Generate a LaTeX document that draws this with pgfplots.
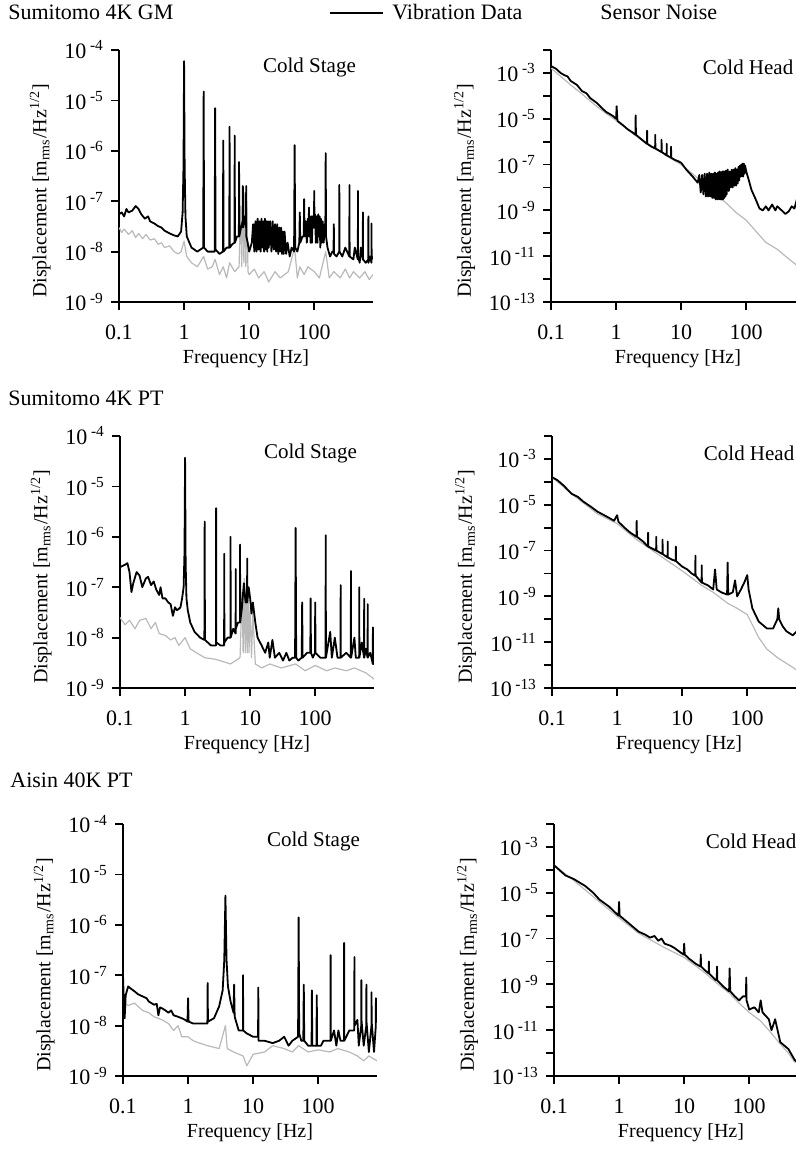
\documentclass[border=0pt]{standalone}
\usepackage{fontspec}
\setmainfont{Liberation Serif}
\usepackage{pgfplots}
\pgfplotsset{compat=1.18}

\pgfplotsset{
  cpanel/.style={scale only axis,width=127pt,height=126pt,
    xmin=0.1,xmax=800,
    axis x line*=bottom,axis y line*=left,
    axis line style={line width=1pt,-},
    tick align=outside,major tick length=4pt,
    tick style={line width=0.9pt,black},
    xminorticks=false,yminorticks=false,
    tick label style={font=\fontsize{11}{13}\selectfont},
    label style={font=\fontsize{10}{12}\selectfont},
    xticklabel shift=4pt,
    xtick={0.1,1,10,100},xticklabels={0.1,1,10,100},
    xlabel={Frequency [Hz]},
    xlabel style={yshift=2pt},
    ylabel={Displacement [m\textsubscript{rms}/Hz\textsuperscript{1/2}]},
    ylabel style={at={(ticklabel cs:0.44)}},
    anchor=north west},
  lpanel/.style={cpanel,ymin=1e-9,ymax=1e-4,
    ytick={1e-9,1e-8,1e-7,1e-6,1e-5,1e-4},
    yticklabels={10\,\textsuperscript{-9},10\,\textsuperscript{-8},10\,\textsuperscript{-7},10\,\textsuperscript{-6},10\,\textsuperscript{-5},10\,\textsuperscript{-4}}},
  rpanel/.style={cpanel,ymin=1e-13,ymax=1e-2,
    ytick={1e-13,1e-12,1e-11,1e-10,1e-9,1e-8,1e-7,1e-6,1e-5,1e-4,1e-3,1e-2},
    yticklabels={10\,\textsuperscript{-13},,10\,\textsuperscript{-11},,10\,\textsuperscript{-9},,10\,\textsuperscript{-7},,10\,\textsuperscript{-5},,10\,\textsuperscript{-3},}},
  vib/.style={black,line width=0.9pt,line join=round},
  noise/.style={gray!55,line width=0.6pt,line join=round},
}

\begin{document}
\begin{tikzpicture}
\useasboundingbox (0,0) rectangle (398pt,-583pt);
\clip (0,0) rectangle (398pt,-583pt);

% row titles and legend
\begin{scope}[every node/.style={inner sep=0pt,anchor=base west,font=\fontsize{11}{13}\selectfont}]
\node at (4pt,-10pt) {Sumitomo 4K GM};
\draw[line width=0.8pt] (165pt,-6.5pt) -- (191.5pt,-6.5pt);
\node at (196pt,-10pt) {Vibration Data};
\node at (300pt,-10pt) {Sensor Noise};
\node at (4pt,-202.5pt) {Sumitomo 4K PT};
\node at (5pt,-393.5pt) {Aisin 40K PT};
\end{scope}

% Sumitomo 4K GM, cold stage
\begin{axis}[xmode=log,ymode=log,lpanel,at={(59.5pt,-25pt)}]
\addplot[noise] coordinates {(0.1,3e-8)(0.11,2.4e-8)(0.12,2.8e-8)(0.14,2.2e-8)(0.16,2.6e-8)(0.18,1.9e-8)(0.2,2.3e-8)(0.23,1.8e-8)(0.26,2.2e-8)(0.3,1.7e-8)(0.35,1.8e-8)(0.4,1.4e-8)(0.45,1.5e-8)(0.5,1.2e-8)(0.6,1.3e-8)(0.7,1e-8)(0.8,9e-9)(0.9,1e-8)(1,1.6e-8)(1.1,8e-9)(1.3,6e-9)(1.6,5e-9)(2,8e-9)(2.3,4.5e-9)(2.7,5e-9)(3,7e-9)(3.5,3.5e-9)(4,5e-9)(4.5,3e-9)(5,6e-9)(6,4e-9)(7,5e-9)(7.4,8e-8)(7.7,5e-9)(8,2e-7)(8.3,6e-9)(8.6,1.5e-7)(8.9,5e-9)(9.2,1e-7)(9.6,4e-9)(10,3.5e-9)(12,4.5e-9)(14,3e-9)(17,4e-9)(20,2.5e-9)(25,4e-9)(30,3e-9)(40,4e-9)(50,1.2e-8)(55,3e-9)(60,5e-9)(70,3.5e-9)(80,5e-9)(100,4e-9)(120,3e-9)(150,1e-8)(170,3e-9)(200,4e-9)(250,3e-9)(300,4.5e-9)(350,3e-9)(400,4e-9)(500,3e-9)(600,4e-9)(700,2.8e-9)(800,3.5e-9)};
\addplot[vib] coordinates {(0.1,5.5e-8)(0.11,6e-8)(0.12,5e-8)(0.13,7e-8)(0.14,6e-8)(0.16,6.5e-8)(0.18,8e-8)(0.2,7e-8)(0.22,5.5e-8)(0.25,4.5e-8)(0.28,5e-8)(0.3,4e-8)(0.35,3.6e-8)(0.4,3.2e-8)(0.45,3e-8)(0.5,2.6e-8)(0.6,2.3e-8)(0.7,2.1e-8)(0.8,2e-8)(0.9,2.5e-8)(0.95,6e-8)(0.98,5e-7)(1,6e-5)(1.02,5e-7)(1.05,5e-8)(1.1,2e-8)(1.3,1.2e-8)(1.6,1e-8)(1.97,1.2e-8)(2,1.5e-5)(2.03,1.2e-8)(2.3,1e-8)(2.6,1e-8)(2.95,1e-8)(3,7e-6)(3.05,1.1e-8)(3.5,9e-9)(3.95,1e-8)(4,1.6e-6)(4.05,1e-8)(4.5,1.2e-8)(4.95,1.2e-8)(5,3e-6)(5.05,1.2e-8)(5.5,1.4e-8)(5.95,1.5e-8)(6,2e-6)(6.05,1.5e-8)(6.5,2e-8)(6.95,2e-8)(7,6e-7)(7.05,2e-8)(7.5,3e-8)(7.95,4e-8)(8,2e-7)(8.05,3e-8)(8.5,5e-8)(8.95,3e-8)(9,2e-7)(9.05,2e-8)(9.5,1.5e-8)(10,1e-8)(11,1.5e-8)(11.5,3.5e-8)(12,1e-8)(12.5,4e-8)(13,1e-8)(13.5,4.5e-8)(14,1.1e-8)(14.5,4e-8)(15,1e-8)(15.5,4.5e-8)(16,1.2e-8)(16.5,4e-8)(17,1e-8)(17.5,4.5e-8)(18,1.1e-8)(18.5,4e-8)(19,1e-8)(19.5,4e-8)(20,1.2e-8)(21,4e-8)(22,1e-8)(23,4e-8)(24,1.1e-8)(25,3.5e-8)(26,1e-8)(27,3.5e-8)(28,9e-9)(29,3e-8)(30,1e-8)(31,3e-8)(32,9e-9)(33,2.5e-8)(34,9e-9)(35,2.5e-8)(37,9e-9)(39,1.5e-8)(42,8e-9)(45,1.2e-8)(49,1e-8)(50,1.3e-6)(51,1.2e-8)(55,1e-8)(59,1.5e-8)(60,6e-8)(61,1.5e-8)(66,2e-8)(69,2e-8)(70,1.1e-7)(71,2e-8)(74,4e-8)(77,1.5e-8)(80,4.5e-8)(82,2e-8)(83,7.5e-8)(84,2e-8)(86,5e-8)(88,1.5e-8)(90,5e-8)(92,1.5e-8)(95,5e-8)(99,3e-8)(100,1.6e-7)(101,3e-8)(103,5.5e-8)(106,1.5e-8)(109,5e-8)(112,1.5e-8)(115,5.5e-8)(118,2e-8)(121,5e-8)(124,1.2e-8)(127,4.5e-8)(131,1.5e-8)(135,4e-8)(140,1.5e-8)(144,3.5e-8)(148,2e-8)(150,9e-7)(152,2e-8)(160,1.2e-8)(175,8e-9)(190,1e-8)(198,1e-8)(200,3.5e-8)(202,9e-9)(220,8e-9)(242,1e-8)(243,2.1e-7)(245,1e-8)(270,8e-9)(300,1.2e-8)(346,8e-9)(348,2.1e-7)(350,8e-9)(400,7e-9)(420,1.2e-8)(468,7e-9)(470,1.6e-7)(472,8e-9)(500,6e-9)(520,1.2e-8)(558,7e-9)(560,6e-8)(562,7e-9)(620,6e-9)(678,7e-9)(680,5e-8)(682,6e-9)(720,8e-9)(758,6e-9)(760,3.6e-8)(762,7e-9)(800,8e-9)};
\node[font=\fontsize{10.5}{12}\selectfont] at (rel axis cs:0.75,0.93) {Cold Stage};
\end{axis}

% Sumitomo 4K GM, cold head
\begin{axis}[xmode=log,ymode=log,rpanel,at={(275.5pt,-25pt)}]
\addplot[noise] coordinates {(0.1,1.6e-3)(0.2,3e-4)(0.3,1.2e-4)(0.5,3.5e-5)(0.7,1.7e-5)(1,8.5e-6)(2,1.8e-6)(3,8.5e-7)(5,3.7e-7)(7,1.8e-7)(10,1e-7)(20,2e-8)(30,7e-9)(50,2e-9)(70,8e-10)(100,3.7e-10)(150,1e-10)(200,4e-11)(300,2e-11)(400,1e-11)(600,4e-12)(800,2.5e-12)};
\addplot[vib] coordinates {(0.1,2e-3)(0.12,1.5e-3)(0.14,1e-3)(0.16,8e-4)(0.18,7e-4)(0.2,4.5e-4)(0.25,3e-4)(0.3,1.6e-4)(0.35,1.3e-4)(0.4,8e-5)(0.5,5e-5)(0.6,3e-5)(0.7,2e-5)(0.8,1.6e-5)(0.9,1.3e-5)(1,1e-5)(1.02,3.5e-5)(1.05,8e-6)(1.3,5e-6)(1.5,3.5e-6)(1.8,2.5e-6)(1.98,2e-6)(2,1.4e-5)(2.02,2e-6)(2.5,1.2e-6)(2.98,8e-7)(3,3e-6)(3.02,8e-7)(3.5,6e-7)(3.98,5e-7)(4,2e-6)(4.02,5e-7)(4.98,3.5e-7)(5,1.2e-6)(5.02,3.5e-7)(5.98,2.5e-7)(6,8e-7)(6.02,2.5e-7)(6.98,2e-7)(7,6e-7)(7.02,2e-7)(8,1.6e-7)(9,1.4e-7)(10,1.2e-7)(12,6e-8)(15,3e-8)(18,1.6e-8)(19,3.5e-8)(20,6e-9)(21,3.5e-8)(22,5e-9)(23,4e-8)(24,4e-9)(25,4e-8)(26,4e-9)(27,4.5e-8)(28,4e-9)(29,4e-8)(30,3.5e-9)(31,4e-8)(32,3.5e-9)(33,4.5e-8)(34,3e-9)(35,4e-8)(36,3e-9)(37,4.5e-8)(38,3e-9)(39,5e-8)(40,3e-9)(41,4.5e-8)(42,3e-9)(43,5e-8)(44,3e-9)(45,5e-8)(46,3.5e-9)(47,5e-8)(48,4e-9)(49,5.5e-8)(50,5e-9)(52,6e-8)(54,7e-9)(56,5e-8)(58,1e-8)(60,6e-8)(62,1e-8)(64,6e-8)(66,1.2e-8)(68,7e-8)(70,1.2e-8)(72,6e-8)(74,1.5e-8)(76,8e-8)(78,2e-8)(80,9e-8)(82,3e-8)(84,1e-7)(86,3e-8)(88,1.1e-7)(90,3e-8)(92,1.1e-7)(94,4e-8)(96,9e-8)(100,5e-8)(110,2e-8)(120,8e-9)(140,3e-9)(160,1.2e-9)(180,1e-9)(200,1.5e-9)(220,1e-9)(250,1.8e-9)(280,1e-9)(300,1.5e-9)(350,1e-9)(400,7e-10)(450,9e-10)(500,1.5e-9)(550,1.2e-9)(600,3e-9)(620,8e-9)(640,2e-9)(700,2e-9)(800,3e-9)};
\node[font=\fontsize{10.5}{12}\selectfont] at (rel axis cs:0.776,0.93) {Cold Head};
\end{axis}

% Sumitomo 4K PT, cold stage
\begin{axis}[xmode=log,ymode=log,lpanel,at={(60pt,-218pt)}]
\addplot[noise] coordinates {(0.1,2.5e-8)(0.12,1.8e-8)(0.14,2.2e-8)(0.17,1.5e-8)(0.2,2.2e-8)(0.25,2.4e-8)(0.3,1.5e-8)(0.35,2e-8)(0.4,1.2e-8)(0.5,1.1e-8)(0.6,9e-9)(0.7,1e-8)(0.8,7e-9)(1,1e-8)(1.2,6e-9)(1.5,5e-9)(2,4e-9)(3,3.7e-9)(5,3e-9)(7,4e-9)(7.5,8e-8)(7.8,5e-9)(8.1,1.5e-7)(8.4,5e-9)(8.7,1.2e-7)(9,5e-9)(9.3,8e-8)(9.6,5e-9)(10,4e-8)(10.5,4e-9)(11,3e-8)(12,3e-9)(15,2.5e-9)(20,3e-9)(30,2.5e-9)(50,3e-9)(70,2.2e-9)(100,2.8e-9)(150,2.2e-9)(200,2.5e-9)(300,2.2e-9)(400,2.5e-9)(600,2e-9)(800,1.5e-9)};
\addplot[vib] coordinates {(0.1,2.5e-7)(0.12,2.8e-7)(0.13,3e-7)(0.14,2e-7)(0.15,8e-8)(0.16,1.2e-7)(0.18,2e-7)(0.2,1.7e-7)(0.22,1e-7)(0.25,1.5e-7)(0.27,1.6e-7)(0.3,1.1e-7)(0.33,1.3e-7)(0.36,9e-8)(0.4,7e-8)(0.42,1e-7)(0.45,6e-8)(0.5,6e-8)(0.55,5e-8)(0.6,4.6e-8)(0.65,2.7e-8)(0.7,4e-8)(0.75,3.5e-8)(0.8,3.7e-8)(0.85,4e-8)(0.9,6e-8)(0.95,1e-7)(0.98,5e-7)(1,3.7e-5)(1.02,3e-7)(1.05,6e-8)(1.1,3.5e-8)(1.2,2e-8)(1.4,1.3e-8)(1.7,1e-8)(1.98,9e-9)(2,2e-6)(2.02,9e-9)(2.5,7e-9)(2.98,7e-9)(3,3.7e-6)(3.02,8e-9)(3.5,7e-9)(3.98,7e-9)(4,4.6e-7)(4.02,8e-9)(4.5,1e-8)(4.98,1e-8)(5,1e-6)(5.02,1e-8)(5.5,1.5e-8)(5.98,1.2e-8)(6,2.3e-7)(6.02,1.5e-8)(6.5,2e-8)(6.98,2e-8)(7,7e-7)(7.02,2e-8)(7.5,4e-8)(8,1.2e-7)(8.5,5e-8)(8.98,5e-8)(9,3.7e-7)(9.02,5e-8)(9.5,1e-7)(10,6e-8)(10.5,3e-8)(11,5e-8)(12,2e-8)(13,1e-8)(15,7e-9)(17,5e-9)(19,8e-9)(20,4e-9)(22,9e-9)(24,4e-9)(28,5e-9)(32,3.5e-9)(36,5e-9)(40,3.5e-9)(45,4e-9)(49,4e-9)(50,1.5e-6)(51,4e-9)(55,3.5e-9)(62,4e-9)(63,5e-8)(64,4e-9)(75,5e-9)(84,5e-9)(85,6e-8)(86,5e-9)(92,4e-9)(99,5e-9)(100,5e-8)(101,5e-9)(120,4e-9)(144,4e-9)(145,1.07e-6)(146,4e-9)(170,1.3e-8)(180,4e-9)(200,1e-8)(220,4e-9)(245,4e-9)(246,1.1e-7)(247,4e-9)(300,5e-9)(352,4e-9)(354,2.1e-7)(356,4e-9)(400,1e-8)(420,4e-9)(473,4e-9)(475,1e-7)(477,4e-9)(520,8e-9)(563,4e-9)(565,5.9e-8)(567,4e-9)(600,6e-9)(638,4e-9)(640,4.6e-8)(642,4e-9)(700,5e-9)(768,3e-9)(770,1.6e-8)(772,3e-9)(800,3e-9)};
\node[font=\fontsize{10.5}{12}\selectfont] at (rel axis cs:0.75,0.93) {Cold Stage};
\end{axis}

% Sumitomo 4K PT, cold head
\begin{axis}[xmode=log,ymode=log,rpanel,at={(276pt,-218pt)}]
\addplot[noise] coordinates {(0.1,1.6e-4)(0.2,3e-5)(0.5,4e-6)(1,1.5e-6)(2,3e-7)(5,5e-8)(10,1.3e-8)(20,3e-9)(30,1.5e-9)(50,5e-10)(70,3e-10)(100,1.6e-10)(150,1.6e-11)(200,5e-12)(300,2e-12)(500,8e-13)(700,4e-13)(800,3e-13)};
\addplot[vib] coordinates {(0.1,1.6e-4)(0.12,1.2e-4)(0.15,7e-5)(0.2,3e-5)(0.25,2.2e-5)(0.3,1.4e-5)(0.4,8e-6)(0.5,5e-6)(0.7,3e-6)(0.9,2e-6)(1,3.5e-6)(1.05,1.8e-6)(1.3,1e-6)(1.6,6e-7)(1.98,4e-7)(2,2e-6)(2.02,4e-7)(2.5,2.5e-7)(2.98,1.5e-7)(3,6e-7)(3.02,1.5e-7)(3.5,1.2e-7)(3.98,1e-7)(4,4e-7)(4.02,1e-7)(4.98,7e-8)(5,3e-7)(5.02,7e-8)(5.98,5e-8)(6,2.5e-7)(6.02,5e-8)(7,4e-8)(7.98,3.5e-8)(8,1.5e-7)(8.02,3.5e-8)(10,2e-8)(12,1.5e-8)(14,1e-8)(15.9,8e-9)(16,6e-8)(16.1,8e-9)(19.9,4e-9)(20,2.3e-8)(20.1,4e-9)(25,3e-9)(30,2e-9)(32,1.5e-8)(34,2e-9)(40,1.5e-9)(49,1.2e-9)(50,3e-8)(51,1.2e-9)(60,1.5e-9)(65,5e-9)(70,1e-9)(80,2e-9)(90,4e-9)(100,8.5e-9)(105,2e-9)(120,3e-10)(150,8e-11)(200,4e-11)(250,4e-11)(290,1e-10)(300,3e-10)(310,1e-10)(350,5e-11)(400,3e-11)(500,2e-11)(580,3e-11)(600,1.3e-10)(620,3e-11)(700,1.5e-11)(800,1.2e-11)};
\node[font=\fontsize{10.5}{12}\selectfont] at (rel axis cs:0.776,0.93) {Cold Head};
\end{axis}

% Aisin 40K PT, cold stage
\begin{axis}[xmode=log,ymode=log,lpanel,at={(61.5pt,-412pt)}]
\addplot[noise] coordinates {(0.1,3e-8)(0.12,2.5e-8)(0.15,2.8e-8)(0.2,2e-8)(0.25,1.8e-8)(0.3,1.5e-8)(0.4,1.3e-8)(0.5,1.1e-8)(0.6,8e-9)(0.7,1e-8)(0.8,6e-9)(1,6e-9)(1.2,5e-9)(1.5,4.5e-9)(2,4e-9)(3,3.5e-9)(3.75,1e-8)(4,3.5e-9)(5,3e-9)(7,2.5e-9)(8,1.6e-9)(10,2.7e-9)(15,3e-9)(20,4e-9)(30,3.5e-9)(40,3e-9)(50,4e-9)(70,3e-9)(100,3.3e-9)(150,3e-9)(200,3.5e-9)(300,3e-9)(400,2.5e-9)(500,2e-9)(600,2.5e-9)(800,2e-9)};
\addplot[vib] coordinates {(0.1,1e-7)(0.103,3e-8)(0.106,1.4e-8)(0.11,4e-8)(0.12,6e-8)(0.13,5.5e-8)(0.15,4.8e-8)(0.17,4.2e-8)(0.2,3.8e-8)(0.23,3.5e-8)(0.25,3e-8)(0.3,2.6e-8)(0.33,2.7e-8)(0.35,1.6e-8)(0.37,2.3e-8)(0.4,2.2e-8)(0.45,2e-8)(0.5,1.8e-8)(0.55,2e-8)(0.6,1.6e-8)(0.7,1.5e-8)(0.8,1.4e-8)(0.9,1.3e-8)(0.98,1.2e-8)(1,3.5e-8)(1.02,1.2e-8)(1.2,1.1e-8)(1.5,1.1e-8)(1.98,1.1e-8)(2,7e-8)(2.02,1.2e-8)(2.5,1.4e-8)(3,2.4e-8)(3.4,5e-8)(3.6,2e-7)(3.75,3.8e-6)(3.9,2e-7)(4.1,6e-8)(4.5,3e-8)(5,1.8e-8)(5.1,6.5e-8)(5.2,1.5e-8)(6,8e-9)(6.98,8e-9)(7,1e-7)(7.02,8e-9)(8,7e-9)(10,6e-9)(11.9,6e-9)(12,5.7e-8)(12.1,5e-9)(15,5e-9)(20,4.5e-9)(25,5e-9)(30,6e-9)(35,4e-9)(40,5e-9)(49,6e-9)(50,1.4e-6)(51,7e-9)(55,5e-9)(59,5e-9)(60,6.5e-8)(61,5e-9)(70,4e-9)(79,4e-9)(80,5e-8)(81,4e-9)(94,4e-9)(95,4e-8)(96,4e-9)(110,4e-9)(120,5e-9)(154,5e-9)(155,2.5e-7)(156,5e-9)(175,8e-9)(190,4e-9)(204,8e-9)(220,5e-9)(248,5e-9)(250,4.4e-7)(252,5e-9)(300,8e-9)(358,8e-9)(360,2.3e-7)(362,1e-8)(400,1.3e-8)(420,4e-9)(458,1e-8)(460,8e-8)(462,1.3e-8)(500,4e-9)(548,1e-8)(550,6.5e-8)(552,1.2e-8)(600,3e-9)(658,1e-8)(660,4.6e-8)(662,1.2e-8)(720,3e-9)(768,1e-8)(770,3.5e-8)(772,1.2e-8)(800,1.2e-8)};
\node[font=\fontsize{10.5}{12}\selectfont] at (rel axis cs:0.75,0.93) {Cold Stage};
\end{axis}

% Aisin 40K PT, cold head
\begin{axis}[xmode=log,ymode=log,rpanel,at={(277pt,-412pt)}]
\addplot[noise] coordinates {(0.1,1.6e-4)(0.2,3.5e-5)(0.5,4e-6)(1,8e-7)(2,1.7e-7)(5,4e-8)(10,1.5e-8)(20,3.5e-9)(30,1.3e-9)(50,4e-10)(70,1.5e-10)(100,6e-11)(150,2.5e-11)(200,1e-11)(300,2.5e-12)(400,1e-12)(500,4e-13)(600,5e-13)(800,5e-13)};
\addplot[vib] coordinates {(0.1,1.6e-4)(0.12,1e-4)(0.15,5.7e-5)(0.2,4e-5)(0.3,2e-5)(0.4,1e-5)(0.5,5e-6)(0.7,2.5e-6)(0.98,1e-6)(1,4e-6)(1.02,1e-6)(1.5,4e-7)(2,2e-7)(2.5,1.5e-7)(3,1.1e-7)(3.5,1.3e-7)(4,8e-8)(4.5,1e-7)(5,6e-8)(6,5e-8)(7,4e-8)(8,3e-8)(9.8,2e-8)(10,6e-8)(10.2,2e-8)(12,1.3e-8)(15,8e-9)(17.8,6e-9)(18,2e-8)(18.2,6e-9)(20,4.6e-9)(23.8,3e-9)(24,1e-8)(24.2,3e-9)(30,1.6e-9)(31.7,1.5e-9)(32,6e-9)(32.3,1.5e-9)(40,8e-10)(49,5e-10)(50,5e-9)(51,5e-10)(60,3e-10)(70,2e-10)(80,3e-10)(89,3e-10)(90,2e-9)(91,2e-10)(100,8e-11)(120,1e-10)(140,6e-11)(150,2e-10)(160,6e-11)(200,3e-11)(220,1e-11)(250,3e-11)(300,3e-12)(400,1.5e-12)(500,5e-13)(550,4e-13)(600,8e-12)(620,2e-12)(700,5e-12)(800,3e-12)};
\node[font=\fontsize{10.5}{12}\selectfont] at (rel axis cs:0.776,0.93) {Cold Head};
\end{axis}
\end{tikzpicture}
\end{document}
